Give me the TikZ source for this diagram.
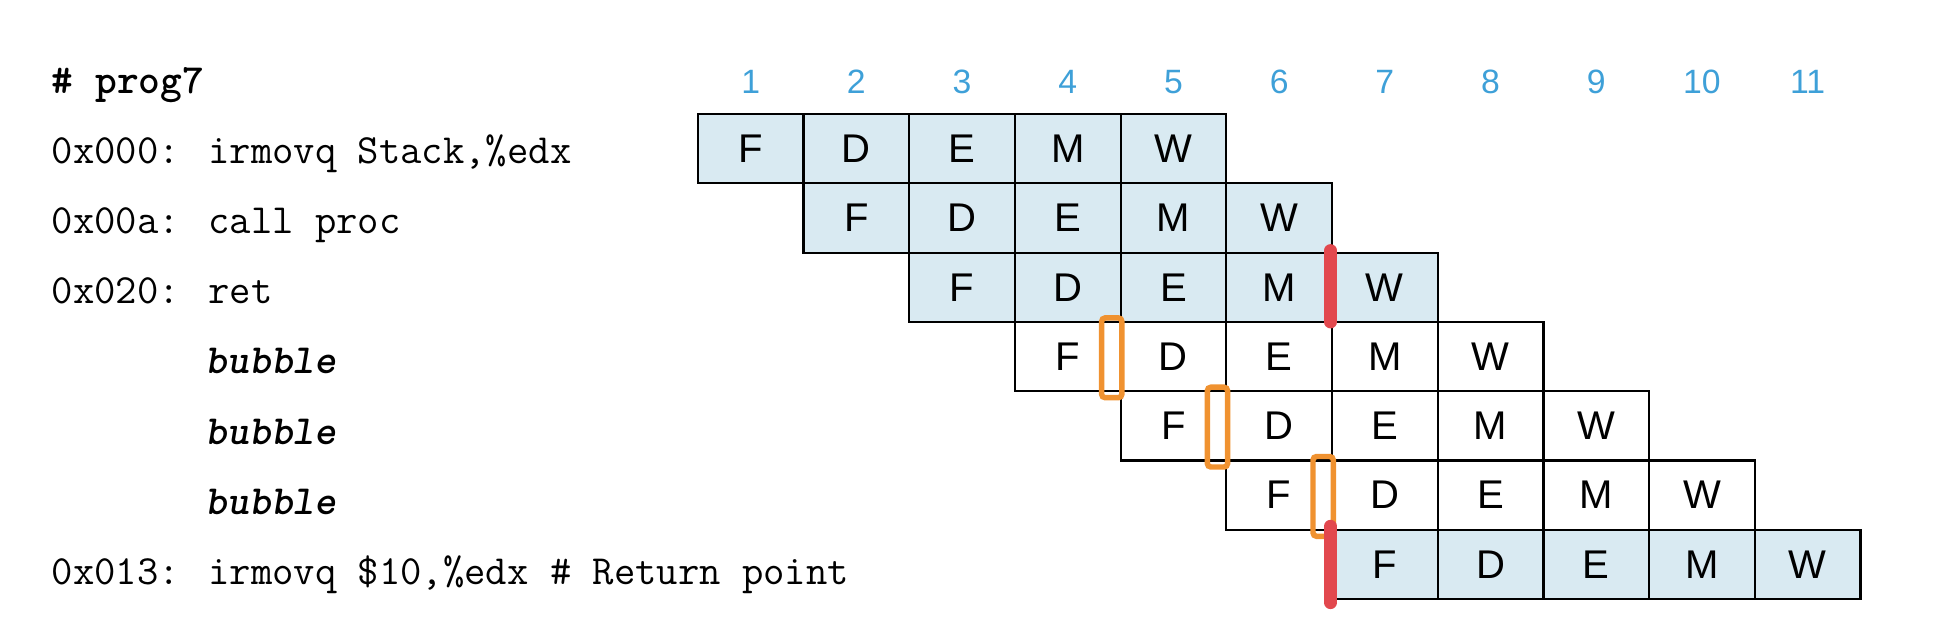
\documentclass[tikz,border=0pt]{standalone}
\usepackage{fontspec}
\usepackage{xcolor}
\usepackage{tikz}
\usetikzlibrary{positioning}
\newfontfamily\helv{Liberation Sans}
\definecolor{stageblue}{RGB}{217,234,242}
\definecolor{cyclenum}{RGB}{62,160,216}
\definecolor{stallorange}{RGB}{240,146,48}
\definecolor{hazardred}{RGB}{226,72,78}

\begin{document}
\begin{tikzpicture}[
    stage/.style={rectangle, draw, line width=0.62pt, outer sep=0pt, inner sep=0pt, minimum width=1.057cm, minimum height=0.693cm, font=\helv\fontsize{11.4}{13}\selectfont},
    instr/.style={anchor=base west, inner sep=0pt, font=\ttfamily\fontsize{11.8}{14}\selectfont},
    cyc/.style={anchor=base, inner sep=0pt, text=cyclenum, font=\helv\fontsize{9.6}{11}\selectfont},
    stall/.style={draw=stallorange, line width=1.55pt, rounded corners=1pt},
    hazard/.style={draw=hazardred, line width=3.7pt, line cap=round}
]
    \useasboundingbox (0,0) rectangle (19.54,6.28);

    % program listing
    \node[instr, font=\ttfamily\bfseries\fontsize{11.8}{14}\selectfont] (head) at (0.51,5.347) {\# prog7};
    \node[instr] (i0) at (0.51,4.65) {0x000: irmovq Stack,\%edx};
    \node[instr] (i1) at (0.51,3.9475) {0x00a: call proc};
    \node[instr] (i2) at (0.51,3.245) {0x020: ret};
    \node[instr, font=\ttfamily\bfseries\itshape\fontsize{11.8}{14}\selectfont] (b1) at (2.05,2.5425) {bubble};
    \node[instr, font=\ttfamily\bfseries\itshape\fontsize{11.8}{14}\selectfont] (b2) at (2.05,1.84) {bubble};
    \node[instr, font=\ttfamily\bfseries\itshape\fontsize{11.8}{14}\selectfont] (b3) at (2.05,1.1375) {bubble};
    \node[instr] (i3) at (0.51,0.435) {0x013: irmovq \$10,\%edx \# Return point};

    % clock cycles
    \foreach \n in {1,...,11}
        \node[cyc] (n\n) at ({6.978+(\n-0.5)*1.057},5.347) {\n};

    % pipeline stages
    \foreach \row/\start/\shade in {0/1/stageblue, 1/2/stageblue, 2/3/stageblue, 3/4/white, 4/5/white, 5/6/white, 6/7/stageblue}
        \foreach \st [count=\k from 0] in {F,D,E,M,W} {
            \pgfmathtruncatemacro\col{\start+\k}
            \node[stage, fill=\shade] (r\row c\col) at ({6.978+(\col-0.5)*1.057},{5.14-(\row+0.5)*0.693}) {\st};
        }

    % stalls
    \draw[stall] ([xshift=-0.19cm, yshift=0.04cm]r3c4.north east) rectangle ([xshift=0.013cm, yshift=-0.065cm]r3c4.south east);
    \draw[stall] ([xshift=-0.19cm, yshift=0.04cm]r4c5.north east) rectangle ([xshift=0.013cm, yshift=-0.065cm]r4c5.south east);
    \draw[stall] ([xshift=-0.19cm, yshift=0.04cm]r5c6.north east) rectangle ([xshift=0.013cm, yshift=-0.065cm]r5c6.south east);

    % return forwarding
    \draw[hazard] ([xshift=-0.015cm, yshift=0.02cm]r2c6.north east) -- ([xshift=-0.015cm]r2c6.south east);
    \draw[hazard] ([xshift=-0.015cm, yshift=0.035cm]r6c7.north west) -- ([xshift=-0.015cm, yshift=-0.035cm]r6c7.south west);
\end{tikzpicture}
\end{document}
